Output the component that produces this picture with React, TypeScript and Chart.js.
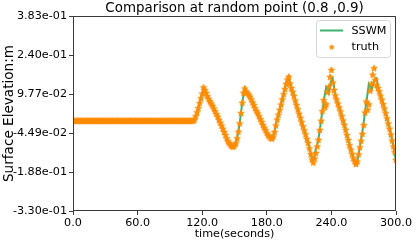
import React, { useEffect, useRef } from "react";
import { Chart, registerables } from "chart.js";

Chart.register(...registerables);

// ---------------- data ----------------
const TITLE = "Comparison at random point (0.8 ,0.9)";
const X_LABEL = "time(seconds)";
const Y_LABEL = "Surface Elevation:m";
const SAMPLE_STEP = 1.2; // seconds between samples

const xTickValues = [0, 60, 120, 180, 240, 300];
const xTickLabels = ["0.0", "60.0", "120.0", "180.0", "240.0", "300.0"];
const yTickValues = [-0.33, -0.188, -0.0449, 0.0977, 0.24, 0.383];
const yTickLabels = ["-3.30e-01", "-1.88e-01", "-4.49e-02", "9.77e-02", "2.40e-01", "3.83e-01"];

const seriesNames = ["SSWM", "truth"];

const truth = [
  0, 0, 0, 0, 0, 0, 0, 0, 0, 0,
  0, 0, 0, 0, 0, 0, 0, 0, 0, 0,
  0, 0, 0, 0, 0, 0, 0, 0, 0, 0,
  0, 0, 0, 0, 0, 0, 0, 0, 0, 0,
  0, 0, 0, 0, 0, 0, 0, 0, 0, 0,
  0, 0, 0, 0, 0, 0, 0, 0, 0, 0,
  0, 0, 0, 0, 0, 0, 0, 0, 0, 0,
  0, 0, 0, 0, 0, 0, 0, 0, 0, 0,
  0, 0, 0, 0, 0, 0, 0, 0, 0, 0,
  0, 0, 0, 0,
  0.004, 0.017, 0.031, 0.046, 0.064, 0.082, 0.099, 0.122, 0.113, 0.102,
  0.090, 0.080, 0.071, 0.063, 0.055, 0.045, 0.035, 0.025, 0.015, 0.004,
  -0.007, -0.018, -0.029, -0.041, -0.052, -0.064, -0.075, -0.082, -0.089, -0.093,
  -0.095, -0.090, -0.082, -0.064, -0.040, -0.010, 0.028, 0.066, 0.102, 0.118,
  0.107, 0.101, 0.095, 0.088, 0.078, 0.067, 0.057, 0.046, 0.036, 0.027,
  0.017, 0.006, -0.004, -0.015, -0.025, -0.034, -0.044, -0.053, -0.058, -0.063,
  -0.065, -0.058, -0.041, -0.017, 0.004, 0.022, 0.040, 0.059, 0.078, 0.097,
  0.116, 0.135, 0.151, 0.161, 0.136, 0.120, 0.106, 0.091, 0.074, 0.058,
  0.042, 0.026, 0.011, -0.005, -0.020, -0.035, -0.050, -0.066, -0.081, -0.101,
  -0.122, -0.141, -0.153, -0.138, -0.118, -0.094, -0.070, -0.034, 0.000, 0.035,
  0.075, 0.050, 0.060, 0.105, 0.125, 0.160, 0.186, 0.140, 0.112, 0.093,
  0.078, 0.063, 0.049, 0.034, 0.017, 0.001, -0.015, -0.033, -0.052, -0.070,
  -0.089, -0.105, -0.121, -0.137, -0.149, -0.158, -0.149, -0.123, -0.097, -0.073,
  -0.048, -0.016, 0.030, 0.070, 0.040, 0.060, 0.110, 0.135, 0.168, 0.192,
  0.150, 0.130, 0.120, 0.108, 0.092, 0.077, 0.061, 0.045, 0.028, 0.009,
  -0.010, -0.029, -0.050, -0.072, -0.094, -0.115, -0.143,
];

const sswm = [
  0, 0, 0, 0, 0, 0, 0, 0, 0, 0,
  0, 0, 0, 0, 0, 0, 0, 0, 0, 0,
  0, 0, 0, 0, 0, 0, 0, 0, 0, 0,
  0, 0, 0, 0, 0, 0, 0, 0, 0, 0,
  0, 0, 0, 0, 0, 0, 0, 0, 0, 0,
  0, 0, 0, 0, 0, 0, 0, 0, 0, 0,
  0, 0, 0, 0, 0, 0, 0, 0, 0, 0,
  0, 0, 0, 0, 0, 0, 0, 0, 0, 0,
  0, 0, 0, 0, 0, 0, 0, 0, 0, 0,
  0, 0, 0, 0,
  0.004, 0.017, 0.031, 0.046, 0.064, 0.082, 0.099, 0.112, 0.113, 0.102,
  0.090, 0.080, 0.071, 0.063, 0.055, 0.045, 0.035, 0.025, 0.015, 0.004,
  -0.007, -0.018, -0.029, -0.041, -0.052, -0.064, -0.075, -0.082, -0.089, -0.093,
  -0.095, -0.090, -0.082, -0.064, -0.040, -0.010, 0.028, 0.066, 0.095, 0.118,
  0.107, 0.101, 0.095, 0.088, 0.078, 0.067, 0.057, 0.046, 0.036, 0.027,
  0.017, 0.006, -0.004, -0.015, -0.025, -0.034, -0.044, -0.053, -0.058, -0.063,
  -0.065, -0.058, -0.041, -0.017, 0.004, 0.022, 0.040, 0.059, 0.078, 0.097,
  0.116, 0.135, 0.148, 0.158, 0.136, 0.120, 0.106, 0.091, 0.074, 0.058,
  0.042, 0.026, 0.011, -0.005, -0.020, -0.035, -0.050, -0.066, -0.081, -0.101,
  -0.122, -0.141, -0.150, -0.128, -0.100, -0.090, -0.066, -0.035, 0.000, 0.035,
  0.068, 0.098, 0.124, 0.118, 0.102, 0.128, 0.150, 0.155, 0.125, 0.095,
  0.078, 0.063, 0.049, 0.034, 0.017, 0.001, -0.015, -0.033, -0.052, -0.070,
  -0.089, -0.105, -0.121, -0.137, -0.149, -0.160, -0.150, -0.125, -0.098, -0.070,
  -0.040, -0.005, 0.030, 0.065, 0.100, 0.135, 0.128, 0.112, 0.128, 0.145,
  0.152, 0.155, 0.130, 0.108, 0.092, 0.077, 0.061, 0.045, 0.028, 0.009,
  -0.010, -0.029, -0.050, -0.072, -0.094, -0.120, -0.150,
];

// ---------------- styles ----------------
const FONT = "'DejaVu Sans', 'Liberation Sans', sans-serif";
const GREEN = "#3cb371";
const ORANGE = "#ff8c00";
const SPINE = "#3a3a3a";

function makeStar(color: string, r: number): HTMLCanvasElement {
  const size = Math.ceil(r * 2 + 3);
  const c = document.createElement("canvas");
  c.width = size;
  c.height = size;
  const ctx = c.getContext("2d")!;
  const cx = size / 2;
  const cy = size / 2 + 0.3;
  ctx.beginPath();
  for (let k = 0; k < 10; k++) {
    const rad = k % 2 === 0 ? r : r * 0.382;
    const a = -Math.PI / 2 + (k * Math.PI) / 5;
    const px = cx + rad * Math.cos(a);
    const py = cy + rad * Math.sin(a);
    if (k === 0) ctx.moveTo(px, py);
    else ctx.lineTo(px, py);
  }
  ctx.closePath();
  ctx.fillStyle = color;
  ctx.fill();
  ctx.strokeStyle = color;
  ctx.lineWidth = 1;
  ctx.lineJoin = "miter";
  ctx.stroke();
  return c;
}

export default function App() {
  const ref = useRef<HTMLCanvasElement | null>(null);

  useEffect(() => {
    const canvas = ref.current;
    if (!canvas) return;
    const star = makeStar(ORANGE, 3.4);
    const legendStar = makeStar(ORANGE, 2.6);
    const times = truth.map((_, i) => +(i * SAMPLE_STEP).toFixed(2));

    const framePlugin = {
      id: "frameAndExtras",
      afterDraw(chart: any) {
        const { ctx, chartArea } = chart;
        const { left, right, top, bottom } = chartArea;
        ctx.save();
        // frame (spines)
        ctx.strokeStyle = SPINE;
        ctx.lineWidth = 1;
        ctx.strokeRect(Math.round(left) + 0.5, Math.round(top) + 0.5, Math.round(right - left) - 1, Math.round(bottom - top) - 1);
        // title
        ctx.fillStyle = "#000";
        ctx.font = `13.4px ${FONT}`;
        ctx.textAlign = "center";
        ctx.textBaseline = "middle";
        ctx.fillText(TITLE, (left + right) / 2, 8.5);
        // legend
        const lx = 316.5, ly = 20.5, lw = 74, lh = 37;
        ctx.beginPath();
        const rr = 3;
        ctx.moveTo(lx + rr, ly);
        ctx.lineTo(lx + lw - rr, ly);
        ctx.quadraticCurveTo(lx + lw, ly, lx + lw, ly + rr);
        ctx.lineTo(lx + lw, ly + lh - rr);
        ctx.quadraticCurveTo(lx + lw, ly + lh, lx + lw - rr, ly + lh);
        ctx.lineTo(lx + rr, ly + lh);
        ctx.quadraticCurveTo(lx, ly + lh, lx, ly + lh - rr);
        ctx.lineTo(lx, ly + rr);
        ctx.quadraticCurveTo(lx, ly, lx + rr, ly);
        ctx.closePath();
        ctx.fillStyle = "rgba(255,255,255,0.8)";
        ctx.fill();
        ctx.strokeStyle = "#d6d6d6";
        ctx.lineWidth = 1;
        ctx.stroke();
        const ds = chart.data.datasets;
        // entry 1: line
        ctx.strokeStyle = ds[0].borderColor;
        ctx.lineWidth = 2;
        ctx.beginPath();
        ctx.moveTo(320, 30.5);
        ctx.lineTo(343, 30.5);
        ctx.stroke();
        // entry 2: star
        ctx.drawImage(legendStar, 331.7 - legendStar.width / 2, 47 - legendStar.height / 2);
        ctx.fillStyle = "#000";
        ctx.font = `11.2px ${FONT}`;
        ctx.textAlign = "left";
        ctx.textBaseline = "middle";
        ctx.fillText(ds[0].label, 351.5, 31);
        ctx.fillText(ds[1].label, 351.5, 47);
        ctx.restore();
      },
    };

    const chart = new Chart(canvas, {
      type: "line",
      data: {
        datasets: [
          {
            label: seriesNames[0],
            data: sswm.map((v, i) => ({ x: times[i], y: v })),
            borderColor: GREEN,
            backgroundColor: GREEN,
            borderWidth: 2,
            pointRadius: 0,
            tension: 0,
            order: 1,
          },
          {
            label: seriesNames[1],
            data: truth.map((v, i) => ({ x: times[i], y: v })),
            showLine: false,
            borderColor: ORANGE,
            backgroundColor: ORANGE,
            pointStyle: star as any,
            pointRadius: 4,
            order: 0,
          },
        ],
      },
      plugins: [framePlugin],
      options: {
        animation: false,
        responsive: false,
        devicePixelRatio: 1,
        layout: { padding: { left: 0, right: 20, top: 16, bottom: 0 } },
        plugins: {
          legend: { display: false },
          title: { display: false },
          tooltip: { enabled: false },
        },
        scales: {
          x: {
            type: "linear",
            min: 0,
            max: 300,
            afterBuildTicks: (s: any) => {
              s.ticks = xTickValues.map((v) => ({ value: v }));
            },
            afterFit: (s: any) => {
              s.height = 31;
            },
            ticks: {
              callback: (_v: any, i: number) => xTickLabels[i],
              font: { family: FONT, size: 11.2 },
              color: "#000",
              padding: 1,
              maxRotation: 0,
              autoSkip: false,
            },
            grid: {
              display: true,
              drawOnChartArea: false,
              drawTicks: true,
              tickLength: 4,
              color: SPINE,
            },
            border: { display: false },
            title: {
              display: true,
              text: X_LABEL,
              font: { family: FONT, size: 11.2 },
              color: "#000",
              padding: { top: 0, bottom: 1 },
            },
          },
          y: {
            type: "linear",
            min: -0.33,
            max: 0.383,
            afterBuildTicks: (s: any) => {
              s.ticks = yTickValues.map((v) => ({ value: v }));
            },
            afterFit: (s: any) => {
              s.width = 73;
            },
            ticks: {
              callback: (_v: any, i: number) => yTickLabels[i],
              font: { family: FONT, size: 11.2 },
              color: "#000",
              padding: 2,
              autoSkip: false,
            },
            grid: {
              display: true,
              drawOnChartArea: false,
              drawTicks: true,
              tickLength: 4,
              color: SPINE,
            },
            border: { display: false },
            title: {
              display: true,
              text: Y_LABEL,
              font: { family: FONT, size: 13.6 },
              color: "#000",
              padding: { top: 1, bottom: 0 },
            },
          },
        },
      },
    } as any);
    return () => chart.destroy();
  }, []);

  return (
    <div style={{ position: "fixed", left: 0, top: 0, width: 416, height: 242, background: "#fff" }}>
      <canvas ref={ref} width={416} height={242} style={{ display: "block", width: 416, height: 242 }} />
    </div>
  );
}
